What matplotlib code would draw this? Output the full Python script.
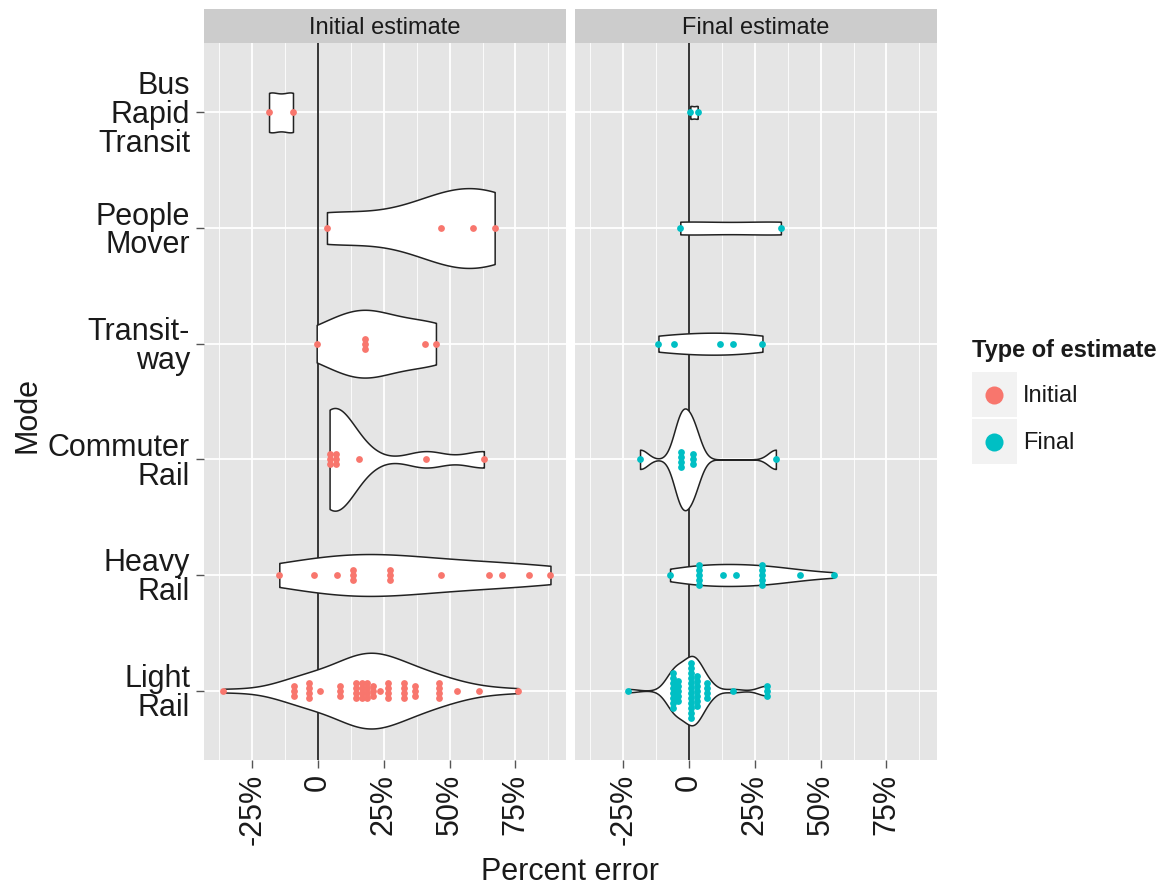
import numpy as np
import matplotlib.pyplot as plt
from matplotlib.patches import Rectangle
from matplotlib.lines import Line2D

plt.rcParams['font.family'] = ['Liberation Sans', 'DejaVu Sans']

modes = ['Bus\nRapid\nTransit', 'People\nMover', 'Transit-\nway',
         'Commuter\nRail', 'Heavy\nRail', 'Light\nRail']
panels = ['Initial estimate', 'Final estimate']
legend_labels = ['Initial', 'Final']
x_ticks = [-25, 0, 25, 50, 75]
x_ticklabels = ['-25%', '0', '25%', '50%', '75%']

# percent error (repeats = stacked dots)
bus_initial = [-18.6, -9.5]
people_initial = [3.4, 46.8, 58.9, 67.1]
transit_initial = [-0.5, 17.7, 17.7, 17.7, 40.7, 44.8]
commuter_initial = [4.4, 4.4, 4.4, 7.0, 7.0, 7.0, 15.5, 41.0, 63.0]
heavy_initial = [-14.7, -1.4, 7.4, 13.2, 13.2, 13.2, 27.3, 27.3, 27.3,
                 46.7, 65.0, 69.9, 80.0, 88.3]
light_initial = [-35.9, -9.1, -9.1, -9.1, -3.4, -3.4, -3.4, -3.4, 0.8,
                 8.4, 8.4, 8.4, 14.4, 14.4, 14.4, 14.4, 16.6, 16.6, 16.6, 16.6,
                 18.6, 18.6, 18.6, 18.6, 21.0, 21.0, 21.0, 23.6,
                 26.6, 26.6, 26.6, 26.6, 32.7, 32.7, 32.7, 32.7,
                 36.9, 36.9, 36.9, 46.0, 46.0, 46.0, 46.0, 52.7, 61.2, 76.0]

bus_final = [0.5, 3.3]
people_final = [-3.3, 34.9]
transit_final = [-11.6, -5.6, 11.8, 16.7, 27.9]
commuter_final = [-18.6, -3.0, -3.0, -3.0, -3.0, 1.5, 1.5, 1.5, 33.0]
heavy_final = [-7.2, 3.9, 3.9, 3.9, 3.9, 3.9, 12.8, 17.9,
               27.6, 27.6, 27.6, 27.6, 27.6, 42.0, 55.0]
light_final = [-23.0] + [-6.0] * 8 + [-4.0] * 5 + [0.8] * 12 + [2.9] * 7 \
    + [6.7] * 4 + [16.8] + [29.5] * 3

initial_groups = [bus_initial, people_initial, transit_initial,
                  commuter_initial, heavy_initial, light_initial]
final_groups = [bus_final, people_final, transit_final,
                commuter_final, heavy_final, light_final]

# max violin width per mode (fraction of one category step)
initial_widths = [0.345, 0.69, 0.586, 0.888, 0.362, 0.655]
final_widths = [0.112, 0.112, 0.19, 0.88, 0.19, 0.60]

colors = ['#F8766D', '#00BFC4']
text_col = '#1a1a1a'


def bw_nrd0(x):
    x = np.asarray(x, dtype=float)
    hi = np.std(x, ddof=1)
    q75, q25 = np.percentile(x, [75, 25])
    lo = min(hi, (q75 - q25) / 1.34)
    if lo == 0:
        lo = hi if hi > 0 else 1.0
    return 0.9 * lo * len(x) ** -0.2


def violin_shape(x, adjust=1.5):
    x = np.asarray(x, dtype=float)
    bw = bw_nrd0(x) * adjust
    grid = np.linspace(x.min(), x.max(), 300)
    d = np.exp(-0.5 * ((grid[:, None] - x[None, :]) / bw) ** 2).sum(axis=1)
    return grid, d / d.max()


W, H = 1167, 886
fig = plt.figure(figsize=(W / 100, H / 100), dpi=100)

panel_left = [204, 575]
panel_w = 362
top, bottom = 43, 760
strip_top = 9
xlim = (-43.3, 94.2)
ylim = (0.4, 6.6)
px_per_unit = (bottom - top) / (ylim[1] - ylim[0])
stack_step = 5.0 / px_per_unit
dot_size = (6.8 * 0.72) ** 2

for k, (groups, widths) in enumerate([(initial_groups, initial_widths),
                                      (final_groups, final_widths)]):
    ax = fig.add_axes([panel_left[k] / W, 1 - bottom / H,
                       panel_w / W, (bottom - top) / H])
    ax.set_facecolor('#E5E5E5')
    for s in ax.spines.values():
        s.set_visible(False)
    ax.set_xlim(*xlim)
    ax.set_ylim(*ylim)
    ax.set_xticks(x_ticks)
    ax.set_xticks([-37.5, -12.5, 12.5, 37.5, 62.5, 87.5], minor=True)
    ax.set_xticklabels(x_ticklabels, rotation=90, fontsize=22, color=text_col)
    ypos = np.arange(len(modes), 0, -1)
    ax.set_yticks(ypos)
    ax.tick_params(which='major', length=6, width=1, color='#555555', pad=4)
    ax.tick_params(which='minor', length=0)
    if k == 0:
        ax.set_yticklabels(modes, fontsize=22, color=text_col, linespacing=0.95)
    else:
        ax.set_yticklabels([])
        ax.tick_params(axis='y', length=0)
    ax.set_axisbelow(True)
    ax.grid(which='major', color='white', lw=1.3)
    ax.grid(which='minor', axis='x', color='white', lw=0.6)
    ax.axvline(0, color='black', lw=1.1, zorder=1.5)

    for g, w, y in zip(groups, widths, ypos):
        grid, d = violin_shape(g)
        ax.fill_between(grid, y - w / 2 * d, y + w / 2 * d, facecolor='white',
                        edgecolor='#222222', lw=1.1, zorder=2)
        vals, counts = np.unique(np.asarray(g), return_counts=True)
        xs, ys = [], []
        for v, n in zip(vals, counts):
            for i in range(n):
                xs.append(v)
                ys.append(y + (i - (n - 1) / 2) * stack_step)
        ax.scatter(xs, ys, s=dot_size, color=colors[k], linewidths=0, zorder=3)

    # facet strip
    sax = fig.add_axes([panel_left[k] / W, 1 - top / H,
                        panel_w / W, (top - strip_top) / H])
    sax.set_facecolor('#CCCCCC')
    sax.set_xticks([])
    sax.set_yticks([])
    for s in sax.spines.values():
        s.set_visible(False)
    sax.text(0.5, 0.45, panels[k], ha='center', va='center', fontsize=17,
             color=text_col, transform=sax.transAxes)

fig.text(570 / W, 1 - 872 / H, 'Percent error', ha='center', va='center',
         fontsize=22, color=text_col)
fig.text(28 / W, 1 - 415 / H, 'Mode', ha='center', va='center',
         rotation=90, fontsize=22, color=text_col)

# legend drawn in pixel coordinates
lax = fig.add_axes([0, 0, 1, 1], facecolor='none')
lax.set_xlim(0, W)
lax.set_ylim(H, 0)
lax.axis('off')
lax.text(972, 351, 'Type of estimate', ha='left', va='center', fontsize=17,
         fontweight='bold', color=text_col)
for i, (lab, c) in enumerate(zip(legend_labels, colors)):
    y0 = 372 + i * 47
    lax.add_patch(Rectangle((972, y0), 45, 45, facecolor='#F2F2F2',
                            edgecolor='none'))
    lax.add_line(Line2D([994], [y0 + 22.5], marker='o', markersize=13,
                        color=c, markeredgewidth=0))
    lax.text(1023, y0 + 24, lab, ha='left', va='center', fontsize=17,
             color=text_col)

fig.savefig('out.png', dpi=100)
